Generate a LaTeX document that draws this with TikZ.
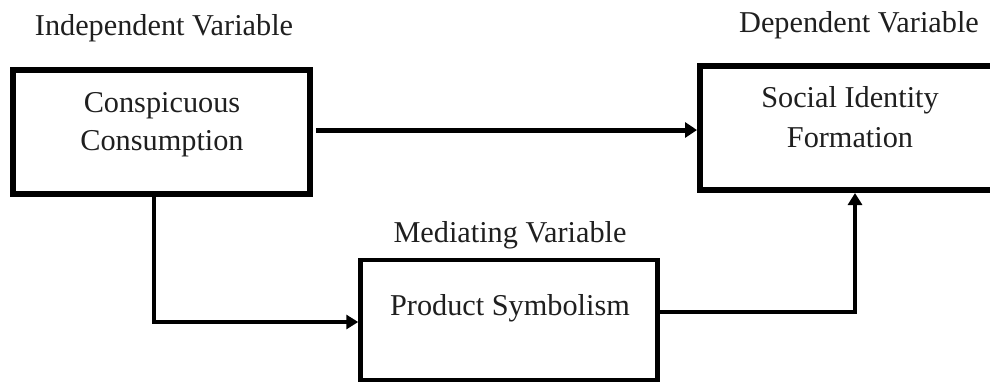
\documentclass[tikz,border=0pt]{standalone}
\usepackage{fontspec}
\setmainfont{Liberation Serif}
\usetikzlibrary{arrows.meta}

\tikzset{
  box/.style={draw=black, rectangle, inner sep=0pt, line width=6bp},
  thinbox/.style={box, line width=4.5bp},
  txt/.style={anchor=base, inner sep=0pt, text=black!88,
              font=\fontsize{30.4}{36}\selectfont},
  mainlink/.style={line width=5bp, -{Triangle[length=12bp, width=15bp]}},
  sidelink/.style={line width=3.5bp, line join=miter,
                   -{Triangle[length=12bp, width=14bp]}}
}

\begin{document}
\begin{tikzpicture}[x=1bp, y=-1bp]
  \useasboundingbox (0,0) rectangle (990,383);
  \clip (0,0) rectangle (990,383);
  \fill[white] (0,0) rectangle (990,383);

  % variable headings
  \node[txt] (indep) at (164,35)  {Independent Variable};
  \node[txt] (dep)   at (859,32)  {Dependent Variable};
  \node[txt] (med)   at (510,242) {Mediating Variable};

  % the three construct boxes
  \node[box, minimum width=297bp, minimum height=124bp] (cc)  at (161.5,132) {};
  \node[box, minimum width=300bp, minimum height=124bp] (sif) at (850,128) {};
  \node[thinbox, minimum width=297bp, minimum height=120bp] (ps) at (509,320) {};

  % box captions
  \node[txt] (cc1)  at (162,112) {Conspicuous};
  \node[txt] (cc2)  at (162,150) {Consumption};
  \node[txt] (sif1) at (850,107) {Social Identity};
  \node[txt] (sif2) at (850,147) {Formation};
  \node[txt] (ps1)  at (510,315) {Product Symbolism};

  % direct effect
  \coordinate (direct) at (316,130);
  \draw[mainlink] (direct) -- (sif.west |- direct);

  % path through the mediator
  \coordinate (bendA) at (154,322);
  \coordinate (bendB) at (855,312);
  \draw[sidelink] (cc.south -| bendA) -- (bendA) -- (ps.west |- bendA);
  \draw[sidelink] (ps.east |- bendB) -- (bendB) -- (sif.south -| bendB);
\end{tikzpicture}
\end{document}
